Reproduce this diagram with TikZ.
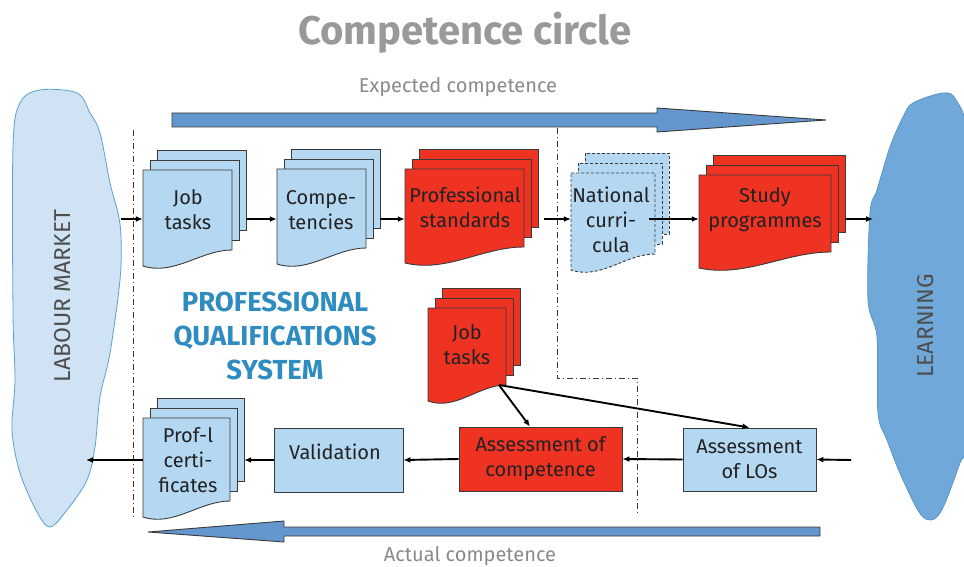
\documentclass[tikz,border=0pt]{standalone}
\usepackage{fontspec}
\setmainfont{Fira Sans}
\usetikzlibrary{arrows.meta}
\definecolor{docblue}{HTML}{B5D8F2}
\definecolor{docred}{HTML}{EE3323}
\definecolor{outl}{HTML}{3A3A3A}
\definecolor{txt}{HTML}{222222}
\definecolor{graytxt}{HTML}{8A8A8A}
\definecolor{titlegray}{HTML}{999999}
\definecolor{pqsblue}{HTML}{2E8CC0}
\definecolor{lmfill}{HTML}{D0E3F4}
\definecolor{lmline}{HTML}{5AA0D0}
\definecolor{lrfill}{HTML}{70A8DA}
\definecolor{lrline}{HTML}{5A95C5}
\definecolor{bigfill}{HTML}{6497CD}
\tikzset{
  bluedoc/.style={fill=docblue,draw=outl,line width=0.9pt},
  reddoc/.style={fill=docred,draw=outl,line width=0.9pt},
  dashdoc/.style={fill=docblue,draw=outl,line width=0.9pt,dash pattern=on 3pt off 2pt},
  boxtext/.style={text=txt,font=\fontsize{20}{25}\selectfont,align=center,inner sep=0pt},
  holder/.style={inner sep=0pt,minimum height=10pt,draw=none},
  arr/.style={line width=1.9pt,-{Latex[length=7pt,width=6pt]}},
  sep/.style={draw=outl,line width=0.9pt,dash pattern=on 6pt off 3pt on 1pt off 3pt},
  bigarrow/.style={fill=bigfill,draw=outl,line width=0.9pt},
  plainbox/.style={draw=outl,line width=0.9pt,text=txt,font=\fontsize{20}{25}\selectfont,align=center,inner sep=0pt},
  sidetext/.style={rotate=90,text=txt!80,font=\fontsize{23}{26}\selectfont}
}
% #1 style, #2 x, #3 y (top of front page), #4 width, #5 height (right side)
\newcommand{\mydocstack}[5]{%
  \draw[#1] (#2+14,#3-20) rectangle ++(#4,#5);
  \draw[#1] (#2+7,#3-10) rectangle ++(#4,#5);
  \draw[#1] (#2,#3) -- ++(#4,0) -- ++(0,#5)
     .. controls (#2+0.65*#4,#3+#5) and (#2+0.35*#4,#3+#5+26) .. (#2,#3+#5+16) -- cycle;
}
\begin{document}
\begin{tikzpicture}[x=1pt,y=-1pt]
\useasboundingbox (0,0) rectangle (964,567);

% title
\node[text=titlegray,font=\bfseries\fontsize{40}{44}\selectfont] (title) at (465,33) {Competence circle};
\node[text=graytxt,font=\fontsize{20}{24}\selectfont] (exp) at (458,87) {Expected competence};
\node[text=graytxt,font=\fontsize{20}{24}\selectfont] (act) at (470,556) {Actual competence};

% blobs
\draw[fill=lmfill,draw=lmline,line width=0.8pt] plot[smooth cycle,tension=0.55] coordinates {
 (40,90) (77,93) (90,113) (100,133) (110,183) (118,213) (121,237) (120,280) (110,353) (100,397)
 (95,447) (87,480) (67,510) (50,527) (37,512) (20,473) (12,430) (15,380) (13,313) (13,147) (20,103)};
\node[sidetext] (lm) at (63,296) {LABOUR MARKET};

\begin{scope}
\clip (0,0) rectangle (964,567);
\draw[fill=lrfill,draw=lrline,line width=0.8pt] plot[smooth cycle,tension=0.55] coordinates {
 (913,103) (943,93) (956,100) (968,140) (975,300) (968,440) (960,463) (940,513) (923,517) (903,480)
 (887,440) (878,413) (877,337) (868,300) (870,213) (877,190) (890,147) (903,117)};
\end{scope}
\node[sidetext] (lr) at (926,326) {LEARNING};

% separators
\draw[sep] (133,130) -- (133,520);
\draw[sep] (557,128) -- (557,378) -- (637,378) -- (637,516);

% big arrows
\draw[bigarrow] (172,113) -- (657,113) -- (657,108) -- (826,120) -- (657,132) -- (657,127) -- (172,127) -- cycle;
\draw[bigarrow] (820,527) -- (284,527) -- (284,521) -- (148,532) -- (284,542) -- (284,536) -- (820,536) -- cycle;

% PQS text
\node[text=pqsblue,font=\bfseries\fontsize{27.5}{34}\selectfont,align=center] (pqs) at (275,336) {PROFESSIONAL\\QUALIFICATIONS\\SYSTEM};

% top row documents
\mydocstack{bluedoc}{143}{170}{89}{80}
\node[boxtext] (jtt) at (188,210) {Job\\tasks};
\node[holder,minimum width=103pt] (jt) at (194.5,219) {};

\mydocstack{bluedoc}{277}{169}{89}{79}
\node[boxtext] (cpt) at (321,210) {Compe-\\tencies};
\node[holder,minimum width=103pt] (cp) at (328.5,219) {};

\mydocstack{reddoc}{405}{169}{119}{78}
\node[boxtext] (pst) at (465,207) {Professional\\standards};
\node[holder,minimum width=139pt] (ps) at (474.5,219) {};

\mydocstack{dashdoc}{571}{173}{84}{81}
\node[boxtext] (nct) at (611,220) {National\\curri-\\cula};
\node[holder,minimum width=98pt] (nc) at (620,219) {};
\coordinate (ncout) at (649,219);

\mydocstack{reddoc}{699}{175}{132}{77}
\node[boxtext] (spt) at (765,210) {Study\\programmes};
\node[holder,minimum width=146pt] (sp) at (772,219) {};

\coordinate (lmin) at (121,219);
\coordinate (lrin) at (873,219);

\draw[arr] (lmin) -- (jt.west);
\draw[arr] (jt.east) -- (cp.west);
\draw[arr] (cp.east) -- (ps.west);
\draw[arr] (ps.east) -- (nc.west);
\draw[arr] (ncout) -- (sp.west);
\draw[arr] (sp.east) -- (lrin);

% middle job tasks (red)
\mydocstack{reddoc}{428}{308}{78}{77}
\node[boxtext] (jtrt) at (467,345) {Job\\tasks};
\coordinate (jtr) at (499,385);

% bottom row
\node[plainbox,fill=docblue,minimum width=133pt,minimum height=63pt] (alo) at (749.5,459.5) {Assessment\\of LOs};
\node[plainbox,fill=docred,minimum width=163pt,minimum height=64pt] (ac) at (540.5,459) {Assessment of\\competence};
\node[plainbox,fill=docblue,minimum width=129pt,minimum height=64pt] (val) at (338.5,460) {};
\node[boxtext] (valt) at (335,452) {Validation};

\mydocstack{bluedoc}{143}{418}{87}{83}
\node[boxtext] (pct) at (188,460) {Prof-l\\certi-\\ficates};
\node[holder,minimum width=101pt] (pc) at (193.5,460) {};

\coordinate (lrout) at (851,460);
\coordinate (lmout) at (86,460);

\draw[arr] (lrout) -- (alo.east);
\draw[arr] (alo.west) -- (ac.east);
\draw[arr] (ac.west) -- (val.east);
\draw[arr] (val.west) -- (pc.east);
\draw[arr] (pc.west) -- (lmout);

\draw[arr] (jtr) -- (ac.north -| 530,0);
\draw[arr] (jtr) -- (alo.north);
\end{tikzpicture}
\end{document}
